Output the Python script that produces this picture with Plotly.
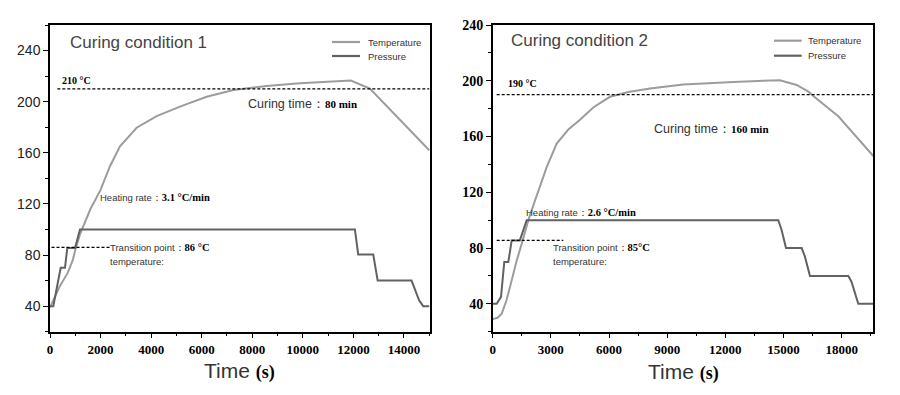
import plotly.graph_objects as go

# ---------------- data ----------------
# Curing condition 1
c1_temp_time = [0, 200, 400, 700, 900, 1000, 1200, 1600, 2000, 2372, 2768, 3427, 4218, 5140, 6195, 7249, 8567, 9885, 11000, 11730, 11900, 12653, 15000]
c1_temp_val = [39, 47, 56, 66, 76, 84, 97, 116, 131, 149.5, 165, 179.6, 188.7, 196.1, 203.9, 209.1, 212.2, 214.4, 215.8, 216.5, 216.5, 210.2, 162]
c1_pres_time = [0, 130, 423, 593, 684, 990, 1186, 12060, 12190, 12785, 12960, 14300, 14600, 14760, 15000]
c1_pres_val = [40, 40, 70, 70, 85.5, 85.5, 100, 100, 80.5, 80.5, 60, 60, 44.5, 40, 40]
c1_cure_temp = 210
c1_transition = 86

# Curing condition 2
c2_temp_time = [0, 250, 464, 700, 892, 1238, 1547, 1837, 2181, 2500, 2785, 3300, 3900, 4502, 5200, 6050, 7000, 8112, 9830, 12410, 14816, 15678, 16300, 16535, 17825, 19630]
c2_temp_val = [29, 30, 33, 42, 52, 71, 85.5, 100, 114, 126, 138, 155, 165, 172, 181, 188.5, 192, 194.5, 197.3, 199.2, 200.4, 197, 192, 189, 174.5, 146]
c2_pres_time = [0, 206, 428, 598, 805, 980, 1400, 1753, 14731, 14900, 15128, 15936, 16100, 16364, 18340, 18500, 18856, 19630]
c2_pres_val = [40, 40, 45, 70, 70, 85.5, 85.5, 100, 100, 93, 80, 80, 74, 60, 60, 56, 40, 40]
c2_cure_temp = 190
c2_transition = 85.5

y_ticks = [40, 80, 120, 160, 200, 240]
x1_ticks = [0, 2000, 4000, 6000, 8000, 10000, 12000, 14000]
x2_ticks = [0, 3000, 6000, 9000, 12000, 15000, 18000]
legend_names = ["Temperature", "Pressure"]

# ---------------- style ----------------
# the page body has an 8px margin, so the figure is offset by 8px
OFF = 8
W, H = 900 - 2 * OFF, 395 - 2 * OFF
T_COL = "#9c9c9c"
P_COL = "#626262"
SANS = "Liberation Sans, Arial, sans-serif"
SERIF = "Liberation Serif, Times New Roman, serif"


def px(xp):
    return (xp - OFF) / W


def py(yp):
    return 1 - (yp - OFF) / H


fig = go.Figure()

fig.add_trace(go.Scatter(x=c1_temp_time, y=c1_temp_val, mode="lines", name=legend_names[0],
                         line=dict(color=T_COL, width=2), xaxis="x", yaxis="y", showlegend=False))
fig.add_trace(go.Scatter(x=c1_pres_time, y=c1_pres_val, mode="lines", name=legend_names[1],
                         line=dict(color=P_COL, width=2), xaxis="x", yaxis="y", showlegend=False))
fig.add_trace(go.Scatter(x=c2_temp_time, y=c2_temp_val, mode="lines", name=legend_names[0],
                         line=dict(color=T_COL, width=2), xaxis="x2", yaxis="y2", showlegend=False))
fig.add_trace(go.Scatter(x=c2_pres_time, y=c2_pres_val, mode="lines", name=legend_names[1],
                         line=dict(color=P_COL, width=2), xaxis="x2", yaxis="y2", showlegend=False))

# dashed reference lines
dash_line = dict(color="black", width=1.3, dash="3px,2px")
fig.add_shape(type="line", xref="x", yref="y", x0=290, x1=15000, y0=c1_cure_temp, y1=c1_cure_temp, line=dash_line)
fig.add_shape(type="line", xref="x", yref="y", x0=60, x1=2372, y0=c1_transition, y1=c1_transition, line=dash_line)
fig.add_shape(type="line", xref="x2", yref="y2", x0=206, x1=19630, y0=c2_cure_temp, y1=c2_cure_temp, line=dash_line)
fig.add_shape(type="line", xref="x2", yref="y2", x0=206, x1=3640, y0=c2_transition, y1=c2_transition, line=dash_line)

x_dom1 = [px(50), px(430)]
x_dom2 = [px(492.7), px(873.3)]
y_dom = [py(331.7), py(25)]

axis_common = dict(showgrid=False, zeroline=False, showline=True, linecolor="black", linewidth=1.5,
                   mirror=True, ticks="outside", ticklen=5, tickwidth=1.3, tickcolor="black",
                   automargin=False)

fig.update_layout(
    width=W, height=H,
    margin=dict(l=0, r=0, t=0, b=0),
    paper_bgcolor="white", plot_bgcolor="white",
    showlegend=False,
    xaxis=dict(domain=x_dom1, range=[0, 15030], tickvals=x1_ticks, ticktext=[str(v) for v in x1_ticks],
               anchor="y",
               minor=dict(dtick=1000, ticklen=3, tickcolor="black", ticks="outside"),
               tickfont=dict(family=SERIF, size=13, color="black", weight="bold"), **axis_common),
    yaxis=dict(domain=y_dom, range=[20, 260], tickvals=y_ticks, ticktext=[str(v) for v in y_ticks],
               anchor="x",
               minor=dict(dtick=20, ticklen=3, tickcolor="black", ticks="outside"),
               tickfont=dict(family=SANS, size=14, color="#222"), **axis_common),
    xaxis2=dict(domain=x_dom2, range=[0, 19630], tickvals=x2_ticks, ticktext=[str(v) for v in x2_ticks],
                anchor="y2",
                minor=dict(dtick=1500, ticklen=3, tickcolor="black", ticks="outside"),
                tickfont=dict(family=SERIF, size=13, color="black", weight="bold"), **axis_common),
    yaxis2=dict(domain=y_dom, range=[20, 240], tickvals=y_ticks, ticktext=[str(v) for v in y_ticks],
                anchor="x2",
                minor=dict(dtick=20, ticklen=3, tickcolor="black", ticks="outside"),
                tickfont=dict(family=SERIF, size=14, color="black", weight="bold"), **axis_common),
)


def bold_serif(t, size):
    return f"<span style='font-family:Liberation Serif;font-weight:bold;font-size:{size}px;color:black'>{t}</span>"


def add_text(x, y, text, size, family=SANS, color="#333", xanchor="left"):
    fig.add_annotation(x=px(x), y=py(y), xref="paper", yref="paper", text=text, showarrow=False,
                       xanchor=xanchor, yanchor="middle", font=dict(family=family, size=size, color=color))


# legends (line sample + label)
legend_spec = [
    (332, 360, 367, 42, 56),
    (774, 801.7, 806.7, 40.7, 55.7),
]
for x0, x1, xt, yt, yp in legend_spec:
    for name, col, yy in zip(legend_names, [T_COL, P_COL], [yt, yp]):
        fig.add_shape(type="line", xref="paper", yref="paper", x0=px(x0), x1=px(x1), y0=py(yy), y1=py(yy),
                      line=dict(color=col, width=2.2))
        add_text(xt - 1, yy, name, 9.5)

# Condition 1 texts
add_text(68, 42, "Curing condition 1", 17, color="#444")
add_text(60, 80, bold_serif("210 °C", 10), 10)
add_text(246, 104, "Curing time：" + bold_serif("80 min", 11), 12.5)
add_text(98, 197.3, "Heating rate：" + bold_serif("3.1 °C/min", 10.5), 9.5)
add_text(108, 247.7, "Transition point：" + bold_serif("86 °C", 10.5), 9.5)
add_text(108, 261, "temperature:", 9.5)
add_text(239, 371, "Time " + bold_serif("(s)", 18), 21, xanchor="center")

# Condition 2 texts
add_text(509, 40.7, "Curing condition 2", 17, color="#444")
add_text(506, 84, bold_serif("190 °C", 10), 10)
add_text(652, 129, "Curing time：" + bold_serif("160 min", 11), 12.5)
add_text(524, 212, "Heating rate：" + bold_serif("2.6 °C/min", 10.5), 9.5)
add_text(551, 247.7, "Transition point：" + bold_serif("85°C", 10.5), 9.5)
add_text(551, 261, "temperature:", 9.5)
add_text(683, 372, "Time " + bold_serif("(s)", 18), 21, xanchor="center")

fig.write_html("out.html")
